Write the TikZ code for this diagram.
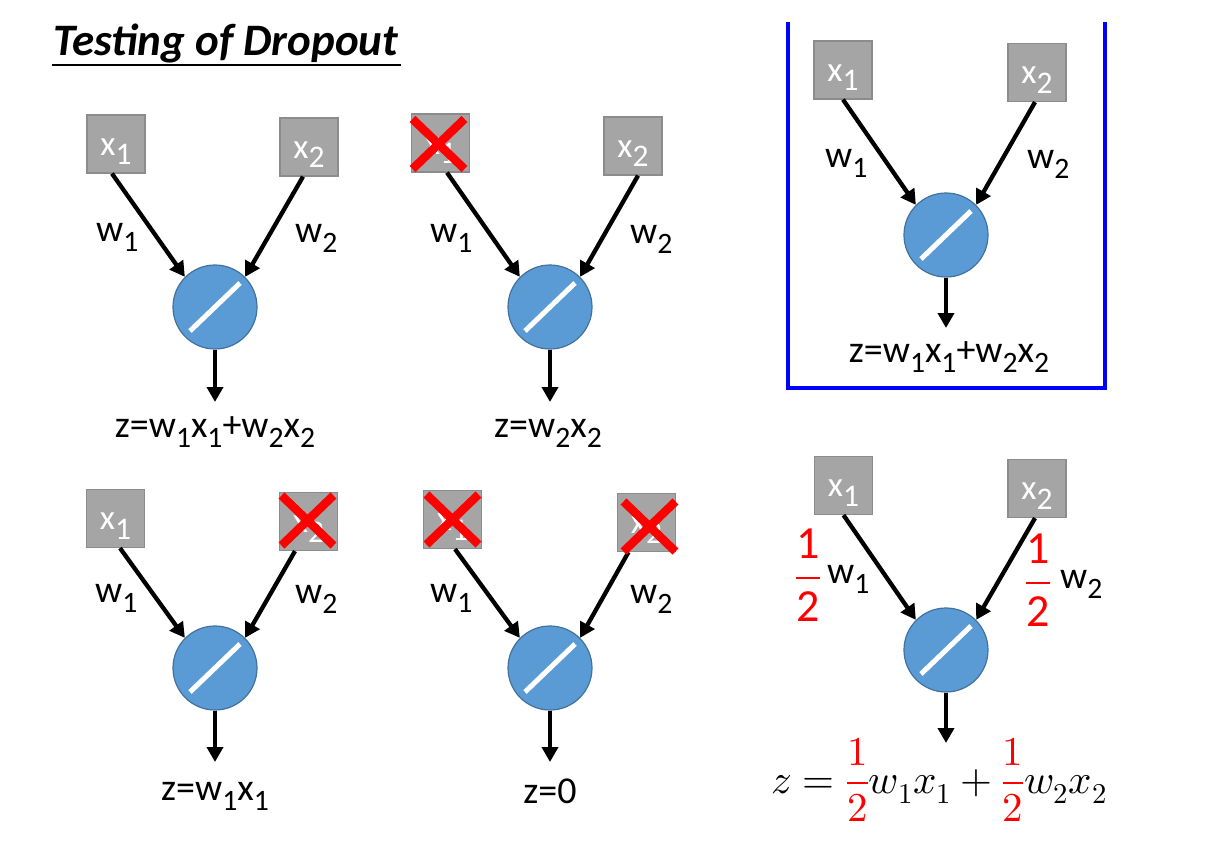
\documentclass[tikz,border=0pt]{standalone}
\usepackage{fontspec}
\usepackage{unicode-math}
\setmainfont{Carlito}
\usetikzlibrary{arrows.meta}

\definecolor{boxgray}{HTML}{A5A5A5}
\definecolor{boxedge}{HTML}{8C8C8C}
\definecolor{unitblue}{HTML}{5B9BD5}
\definecolor{unitedge}{HTML}{41719C}

% lowered index
\newcommand{\lo}[2][0.78]{\raisebox{-0.28em}{\scalebox{#1}{#2}}}

\begin{document}
\begin{tikzpicture}[x=1pt, y=-1pt,
    inbox/.style={draw=boxedge, line width=1.2pt, fill=boxgray, minimum size=58pt, inner sep=0pt,
      text=white, text height=24pt, text depth=2pt, font=\fontsize{35}{40}\selectfont},
    unit/.style={circle, draw=unitedge, line width=1.2pt, fill=unitblue, minimum size=84pt, inner sep=0pt},
    slash/.style={white, line width=5pt},
    link/.style={line width=4.3pt, -{Triangle[length=15pt,width=16pt]}},
    drop/.style={red, line width=8.5pt},
    lbl/.style={font=\fontsize{38}{44}\selectfont, inner sep=0pt, anchor=base},
    wlbl/.style={font=\fontsize{38}{44}\selectfont, inner sep=0pt, anchor=base west},
    half/.style={text=red, inner sep=0pt, font=\fontsize{46}{50}\selectfont},
    panelframe/.style={blue, line width=4pt}]
  \useasboundingbox (0,0) rectangle (1216,841);

  % title
  \node[font=\fontsize{45}{48}\selectfont\bfseries\itshape, inner sep=0pt, anchor=base west] (title) at (53,55) {Testing of Dropout};
  \draw[line width=2.5pt] ([xshift=-1pt, yshift=-10pt]title.base west) -- ([xshift=3pt, yshift=-10pt]title.base east);

  % frame around the scaled case
  \draw[panelframe] (788,22) -- (788,388) -- (1105,388) -- (1105,22);

  % the six small networks
  \foreach \p/\cx/\cy/\ax/\ay/\bx/\by/\sa/\sb/\tip in {
      a/215/307/116/144/309/147/-4/-6/402,
      b/550/307/440.5/143/633/146/6.5/5/402,
      c/215/668/115.5/518.5/308.5/521.5/4.5/-13.5/762,
      d/550/668/452.5/519.5/646.5/522.5/2.5/-18/762,
      e/946/235/843/70/1037/72.5/0/-2/328,
      f/946/650/843.5/485.5/1037/488.5/0/-2/743} {
    \node[inbox] (x\p1) at (\ax,\ay) {x\lo[0.9]{1}};
    \node[inbox] (x\p2) at (\bx,\by) {x\lo[0.9]{2}};
    \node[unit] (u\p) at (\cx,\cy) {};
    \draw[slash] ([shift={(-25,24)}]u\p.center) -- ([shift={(25,-24)}]u\p.center);
    \coordinate (o\p) at (\cx,\tip);
    \draw[link] ([xshift=\sa]x\p1.south) -- (u\p.135);
    \draw[link] ([xshift=\sb]x\p2.south) -- (u\p.45);
    \draw[link] (u\p.south) -- (o\p);
  }

  % dropped inputs
  \foreach \c/\dx/\dy in {xb1/-2/1, xc2/-1/-1, xd1/0/0, xd2/3/4}
    \draw[drop] ([shift={(\dx-26,\dy-25)}]\c.center) -- ([shift={(\dx+26,\dy+25)}]\c.center)
                ([shift={(\dx+26,\dy-25)}]\c.center) -- ([shift={(\dx-26,\dy+25)}]\c.center);

  % weights
  \node[wlbl] (wa1) at (96,241) {w\lo{1}};
  \node[wlbl] (wa2) at (295,242) {w\lo{2}};
  \node[wlbl] (wb1) at (430,242) {w\lo{1}};
  \node[wlbl] (wb2) at (630,243) {w\lo{2}};
  \node[wlbl] (wc1) at (95,602) {w\lo{1}};
  \node[wlbl] (wc2) at (295,603) {w\lo{2}};
  \node[wlbl] (wd1) at (430,602) {w\lo{1}};
  \node[wlbl] (wd2) at (630,603) {w\lo{2}};
  \node[wlbl] (we1) at (825,167) {w\lo{1}};
  \node[wlbl] (we2) at (1027,168) {w\lo{2}};
  \node[half] (hf1) at (808,575) {$\dfrac{\textrm{1}}{\textrm{2}}$};
  \node[wlbl] (wf1) at (827,583) {w\lo{1}};
  \node[half] (hf2) at (1038,580) {$\dfrac{\textrm{1}}{\textrm{2}}$};
  \node[wlbl] (wf2) at (1060,588) {w\lo{2}};

  % outputs
  \node[lbl] (za) at (215,437) {z=w\lo{1}x\lo{1}+w\lo{2}x\lo{2}};
  \node[lbl] (zb) at (548,437) {z=w\lo{2}x\lo{2}};
  \node[lbl] (zc) at (215,800) {z=w\lo{1}x\lo{1}};
  \node[lbl] (zd) at (550,803) {z=0};
  \node[lbl] (ze) at (949,362) {z=w\lo{1}x\lo{1}+w\lo{2}x\lo{2}};
  \node[lbl, font=\fontsize{41}{46}\selectfont] (zf) at (939,793)
    {$z=\textcolor{red}{\dfrac{1}{2}}w_1x_1+\textcolor{red}{\dfrac{1}{2}}w_2x_2$};
\end{tikzpicture}
\end{document}
